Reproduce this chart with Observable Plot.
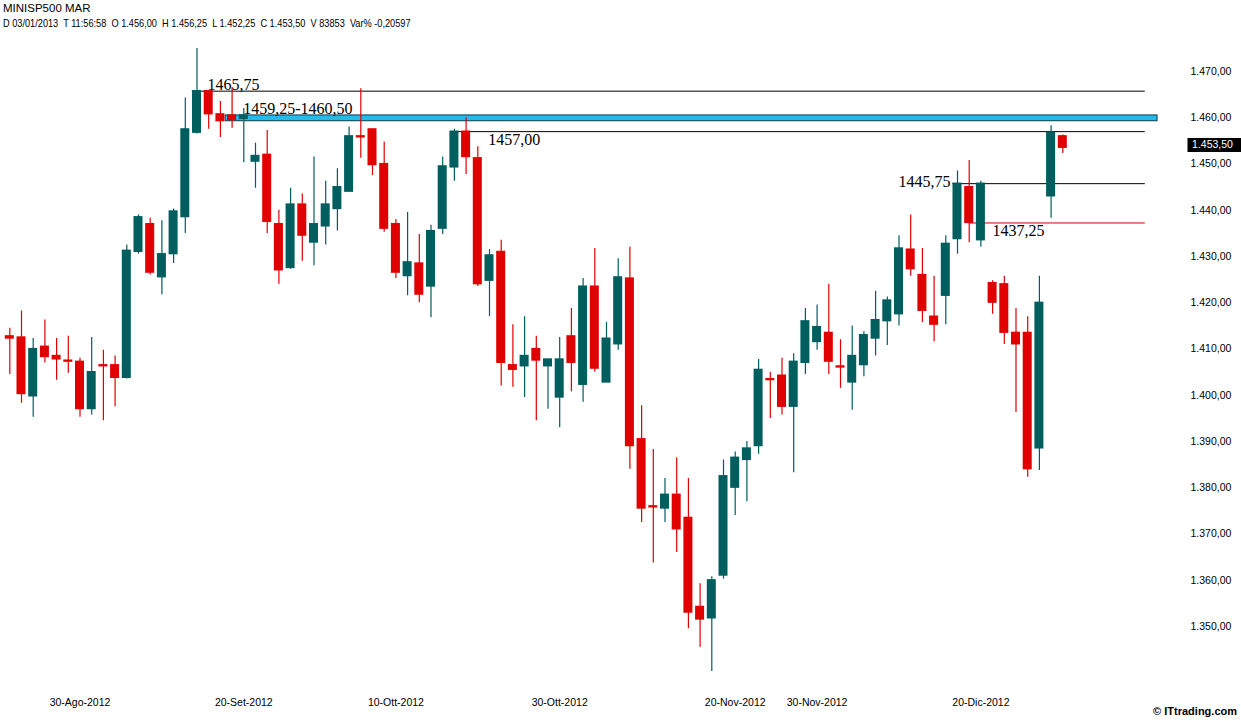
<!DOCTYPE html>
<html><head><meta charset="utf-8">
<script src="https://cdn.jsdelivr.net/npm/d3@7"></script>
<script src="https://cdn.jsdelivr.net/npm/@observablehq/plot@0.6"></script>
<style>
html,body{margin:0;padding:0;background:#fff;}
#wrap{position:relative;width:1241px;height:721px;overflow:hidden;background:#fff;}
#hdr{position:relative;height:32px;font-family:"Liberation Sans",Arial,sans-serif;color:#000;}
#l1{position:absolute;left:3px;top:1px;font-size:11.5px;line-height:14px;}
#l2{position:absolute;left:3px;top:17px;font-size:10.5px;line-height:13px;white-space:pre;transform-origin:0 0;transform:scaleX(0.876);}
#copy{position:absolute;right:4px;top:705px;font:bold 11px "Liberation Sans",Arial,sans-serif;color:#000;}
#chart svg{display:block;}
</style></head>
<body>
<div id="wrap">
  <div id="hdr"><div id="l1"></div><div id="l2"></div></div>
  <div id="chart"></div>
  <div id="copy"></div>
</div>
<script>
// ---- Data ----
const titleText = "MINISP500 MAR";
const infoText = "D 03/01/2013  T 11:56:58  O 1.456,00  H 1.456,25  L 1.452,25  C 1.453,50  V 83853  Var% -0,20597";
const copyText = "© ITtrading.com";

const open  = [1412.75,1412.5,1399.75,1410.5,1408.5,1407.5,1407.25,1397.0,1406.5,1406.5,
               1403.75,1431.0,1437.0,1425.5,1430.5,1438.5,1456.75,1465.75,1460.75,1460.5,
               1459.75,1450.5,1452.0,1437.0,1427.5,1441.25,1433.0,1436.5,1440.25,1444.0,
               1456.0,1457.5,1450.0,1437.0,1425.75,1428.5,1423.5,1436.0,1449.25,1457.0,
               1451.25,1424.75,1431.0,1406.5,1406.25,1410.0,1406.25,1399.5,1412.75,1402.25,
               1423.5,1402.75,1411.0,1425.25,1390.5,1376.0,1375.5,1378.5,1373.5,1354.25,
               1351.75,1361.0,1380.0,1386.0,1389.0,1403.5,1404.25,1397.5,1407.0,1411.5,
               1413.5,1406.25,1402.75,1406.5,1412.25,1416.0,1417.5,1431.5,1426.0,1417.0,
               1421.5,1433.75,1445.0,1433.5,1424.25,1424.0,1413.5,1413.5,1388.5,1443.0,
               1456.0];
const high  = [1414.5,1418.25,1412.25,1416.25,1412.25,1412.75,1408.0,1412.5,1409.75,1408.5,
               1432.5,1439.0,1438.25,1437.75,1440.25,1464.25,1475.0,1465.75,1463.5,1466.5,
               1462.0,1454.5,1457.25,1440.0,1444.75,1443.5,1451.5,1446.25,1449.0,1458.0,
               1466.25,1457.5,1454.75,1438.0,1439.5,1434.75,1436.75,1451.5,1457.5,1460.0,
               1453.75,1431.5,1433.5,1415.25,1417.0,1412.75,1407.75,1412.5,1418.75,1425.25,
               1431.75,1415.75,1429.5,1432.0,1397.75,1388.25,1382.0,1386.5,1382.0,1359.25,
               1360.75,1386.0,1387.75,1390.0,1407.75,1405.0,1408.0,1409.0,1418.75,1419.5,
               1424.0,1412.0,1415.0,1413.75,1422.5,1421.25,1434.5,1439.0,1431.75,1425.75,
               1434.5,1448.5,1450.75,1446.25,1424.75,1425.75,1418.75,1417.0,1425.75,1458.25,
               1456.25];
const low   = [1404.5,1398.25,1395.25,1407.0,1403.25,1404.75,1395.25,1395.75,1394.5,1397.5,
               1403.5,1430.5,1426.0,1421.75,1428.5,1435.0,1456.5,1457.5,1455.75,1457.75,
               1450.25,1444.75,1435.0,1424.0,1427.25,1429.0,1428.0,1432.5,1435.5,1444.0,
               1451.25,1447.5,1435.25,1425.25,1421.5,1420.0,1416.75,1434.75,1446.25,1447.75,
               1423.5,1417.0,1402.0,1401.75,1399.5,1394.5,1397.0,1393.0,1400.75,1398.5,
               1405.0,1402.75,1409.75,1384.0,1372.5,1363.75,1372.5,1366.0,1349.5,1345.5,
               1340.25,1360.25,1374.0,1377.0,1387.25,1395.0,1395.75,1383.25,1404.5,1409.75,
               1404.5,1401.5,1396.75,1404.0,1408.5,1410.75,1415.0,1425.75,1415.75,1411.5,
               1415.25,1430.5,1433.0,1432.0,1417.5,1411.0,1396.25,1382.25,1383.75,1438.25,
               1452.25];
const close = [1412.25,1400.25,1410.0,1408.25,1407.75,1407.25,1397.0,1405.0,1406.25,1403.75,
               1431.25,1438.5,1426.5,1430.5,1439.75,1457.5,1465.75,1460.75,1459.25,1459.5,
               1460.5,1451.75,1437.5,1427.0,1441.25,1434.5,1437.0,1441.25,1445.0,1456.0,
               1455.75,1449.75,1436.0,1426.5,1428.75,1421.75,1435.5,1449.5,1457.0,1451.5,
               1424.0,1430.25,1407.0,1405.5,1408.5,1407.5,1407.75,1407.75,1407.0,1423.5,
               1405.75,1412.25,1425.5,1389.0,1375.5,1375.75,1378.5,1371.0,1353.0,1351.5,
               1360.0,1382.5,1386.5,1388.5,1405.5,1403.25,1397.5,1407.25,1416.0,1414.75,
               1407.25,1406.0,1408.5,1413.0,1416.25,1420.5,1431.75,1427.25,1418.25,1415.25,
               1432.75,1445.75,1437.25,1445.75,1420.0,1413.5,1411.0,1384.0,1420.0,1456.75,
               1453.5];

// x-axis tick labels (placed on the candle index they refer to)
const tickIdx    = [6, 20, 33, 47, 62, 69, 83];
const tickLabels = ["30-Ago-2012","20-Set-2012","10-Ott-2012","30-Ott-2012","20-Nov-2012","30-Nov-2012","20-Dic-2012"];
const yTicks = [1350,1360,1370,1380,1390,1400,1410,1420,1430,1440,1450,1460,1470];

// drawn levels
const levelValues = [1465.75, 1457.00, 1445.75, 1437.25];
const levelStart  = [15.6, 38, 80.6, 82];
const levelColor  = ["#000000", "#000000", "#000000", "#d40000"];
const bandRange   = [1459.25, 1460.50];
const bandStart   = 18.45;
const lastPrice   = 1453.50;

// annotation texts
const annTexts = ["1465,75", "1459,25-1460,50", "1457,00", "1445,75", "1437,25"];
const annX     = [16.9, 19.95, 40.9, 80.4, 84.0];
const annY     = [1465.75, 1460.50, 1457.00, 1445.75, 1437.25];

// ---- Build ----
document.getElementById("l1").textContent = titleText;
document.getElementById("l2").textContent = infoText;
document.getElementById("copy").textContent = copyText;

const fmtIt = d3.formatLocale({decimal: ",", thousands: ".", grouping: [3], currency: ["", ""]}).format(",.2f");
const idx = d3.range(open.length);
const TEAL = "#005e5e", RED = "#e00000";
const col = i => close[i] >= open[i] ? TEAL : RED;
const lineEnd = 97.05, bandEnd = 98.1;
const boxX1 = 100.7, boxX2 = 105.6, boxText = 101.05;

const levels = levelValues.map((v, k) => ({v, s: levelStart[k], c: levelColor[k]}));
const ann = annTexts.map((t, k) => ({t, x: annX[k], y: annY[k]}));
const serif = {fontFamily: "'Liberation Serif','Times New Roman',serif", fontSize: 16, fill: "#000"};

const chart = Plot.plot({
  width: 1241, height: 689,
  marginLeft: 9.3, marginRight: 178.7, marginTop: 39, marginBottom: 95,
  x: {type: "linear", domain: [0, 90], axis: null},
  y: {domain: [1350, 1470], axis: null},
  color: {type: "identity"},
  style: {fontFamily: "'Liberation Sans',Arial,sans-serif", fontSize: "10.5px", background: "white", overflow: "visible", color: "#000"},
  marks: [
    Plot.rect([bandRange], {x1: bandStart, x2: bandEnd, y1: d => d[0], y2: d => d[1], fill: "#22bbee", stroke: "#0b3d4a", strokeWidth: 1}),
    Plot.ruleY(levels, {y: "v", x1: "s", x2: lineEnd, stroke: "c", strokeWidth: 1}),
    Plot.ruleX(idx, {x: i => i, y1: i => low[i], y2: i => high[i], stroke: col, strokeWidth: 1.2}),
    Plot.rect(idx, {x1: i => i - 0.385, x2: i => i + 0.385, y1: i => Math.min(open[i], close[i]), y2: i => Math.max(open[i], close[i]), fill: col, insetTop: -0.6, insetBottom: -0.6}),
    Plot.text([ann[0]], {x: "x", y: "y", text: "t", textAnchor: "start", lineAnchor: "bottom", dy: -1, ...serif}),
    Plot.text([ann[1]], {x: "x", y: "y", text: "t", textAnchor: "start", lineAnchor: "bottom", dy: -1, ...serif}),
    Plot.text([ann[2]], {x: "x", y: "y", text: "t", textAnchor: "start", lineAnchor: "top", dy: 2, ...serif}),
    Plot.text([ann[3]], {x: "x", y: "y", text: "t", textAnchor: "end", lineAnchor: "bottom", dy: 3, ...serif}),
    Plot.text([ann[4]], {x: "x", y: "y", text: "t", textAnchor: "start", lineAnchor: "top", dy: 2, ...serif}),
    Plot.axisY({anchor: "right", ticks: yTicks, tickSize: 0, tickPadding: 0, dx: 127.7, tickFormat: fmtIt, fontSize: 10.5}),
    Plot.axisX({anchor: "bottom", ticks: tickIdx, tickFormat: i => tickLabels[tickIdx.indexOf(i)], tickSize: 0, tickPadding: 0, dy: 72, fontSize: 10.5}),
    Plot.ruleY([lastPrice], {x1: boxX1, x2: boxX2, stroke: "#000", strokeWidth: 14, dy: -2.7}),
    Plot.text([lastPrice], {x: boxText, y: d => d, text: d => fmtIt(d), fill: "#fff", fontSize: 10.5, textAnchor: "start", dy: -2.8})
  ]
});
document.getElementById("chart").appendChild(chart);
</script>
</body></html>
